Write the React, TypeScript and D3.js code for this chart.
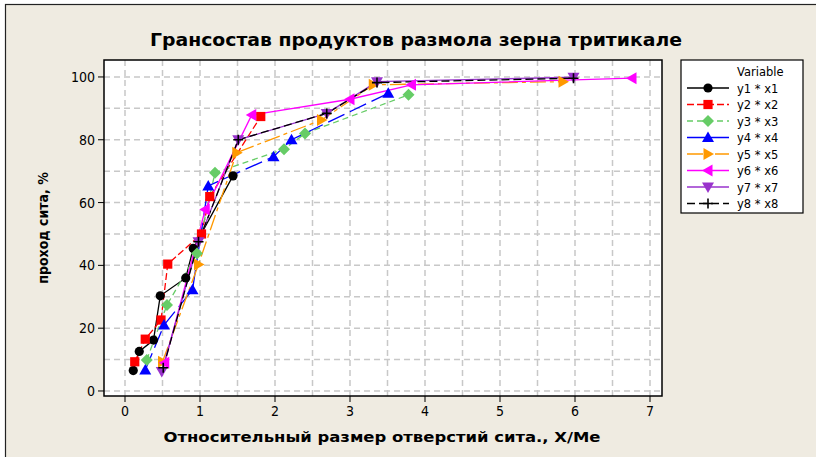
import React from "react";
import * as d3 from "d3";

const seriesNames = ["y1 * x1", "y2 * x2", "y3 * x3", "y4 * x4", "y5 * x5", "y6 * x6", "y7 * x7", "y8 * x8"];

const x1 = [0.11, 0.19, 0.38, 0.47, 0.81, 0.91, 1.44];
const y1 = [6.5, 12.6, 16.2, 30.3, 36.0, 45.4, 68.5];
const x2 = [0.13, 0.27, 0.48, 0.57, 1.02, 1.13, 1.81];
const y2 = [9.3, 16.5, 22.6, 40.4, 50.0, 61.9, 87.4];
const x3 = [0.29, 0.56, 0.96, 1.2, 2.12, 2.4, 3.78];
const y3 = [9.9, 27.4, 43.8, 69.5, 77.0, 82.0, 94.3];
const x4 = [0.27, 0.52, 0.9, 1.11, 1.98, 2.22, 3.51];
const y4 = [6.7, 21.0, 32.2, 65.3, 74.6, 80.0, 94.8];
const x5 = [0.5, 0.98, 1.49, 2.62, 3.31, 5.84];
const y5 = [9.3, 40.3, 75.9, 86.3, 97.5, 98.5];
const x6 = [0.53, 1.07, 1.69, 3.0, 3.82, 6.76];
const y6 = [9.0, 57.8, 87.9, 92.9, 97.5, 99.6];
const x7 = [0.49, 0.98, 1.51, 2.69, 3.36, 5.98];
const y7 = [6.2, 47.5, 80.0, 88.4, 98.5, 99.9];
const x8 = [0.51, 0.98, 1.51, 2.69, 3.36, 5.98];
const y8 = [7.4, 47.5, 80.0, 88.4, 98.2, 99.6];

const xTicks = [0, 1, 2, 3, 4, 5, 6, 7];
const yTicks = [0, 20, 40, 60, 80, 100];
const xGrid = d3.range(0, 7.01, 0.5);
const yGrid = d3.range(0, 100.1, 10);

const colors = ["#000000", "#ff0000", "#66cc66", "#0000ff", "#ff9900", "#ff00ff", "#9933cc", "#000000"];
const dashes = ["", "7,3", "6,4", "18,6", "16,4,4,4", "", "", "8,4"];
const symbols = ["circle", "square", "diamond", "up", "right", "left", "down", "cross"];

const xs = [x1, x2, x3, x4, x5, x6, x7, x8];
const ys = [y1, y2, y3, y4, y5, y6, y7, y8];

const W = 816, H = 457;
const PL = 104, PR = 662, PT = 60, PB = 396;

function Marker({ kind, cx, cy, color }: { kind: string; cx: number; cy: number; color: string }) {
  const s = 5;
  switch (kind) {
    case "circle":
      return <circle cx={cx} cy={cy} r={4.6} fill={color} />;
    case "square":
      return <rect x={cx - 4.6} y={cy - 4.6} width={9.2} height={9.2} fill={color} />;
    case "diamond":
      return <path d={`M${cx},${cy - 6}L${cx + 6},${cy}L${cx},${cy + 6}L${cx - 6},${cy}Z`} fill={color} />;
    case "up":
      return <path d={`M${cx},${cy - 6}L${cx + 6},${cy + 4.5}L${cx - 6},${cy + 4.5}Z`} fill={color} />;
    case "down":
      return <path d={`M${cx},${cy + 6}L${cx + 6},${cy - 4.5}L${cx - 6},${cy - 4.5}Z`} fill={color} />;
    case "right":
      return <path d={`M${cx + 6},${cy}L${cx - 4.5},${cy - 6}L${cx - 4.5},${cy + 6}Z`} fill={color} />;
    case "left":
      return <path d={`M${cx - 6},${cy}L${cx + 4.5},${cy - 6}L${cx + 4.5},${cy + 6}Z`} fill={color} />;
    case "cross":
      return <path d={`M${cx - s},${cy}L${cx + s},${cy}M${cx},${cy - s}L${cx},${cy + s}`} stroke={color} strokeWidth={1.6} />;
  }
  return null;
}

export default function App() {
  const x = d3.scaleLinear().domain([-0.28, 7.16]).range([PL, PR]);
  const y = d3.scaleLinear().domain([-1.6, 105.4]).range([PB, PT]);
  const line = d3.line<[number, number]>().x(d => x(d[0])).y(d => y(d[1]));
  const axisFont = "'DejaVu Sans Condensed', 'DejaVu Sans', sans-serif";

  return (
    <svg width={W} height={H} style={{ position: "absolute", left: 0, top: 0, background: "#fff" }}>
      <rect x={5.5} y={4.5} width={W + 10} height={H + 10} fill="#efebe1" stroke="#222" strokeWidth={1.2} />
      <text x={416} y={46} textAnchor="middle" fontFamily={axisFont} fontWeight="bold" fontSize={17}
        textLength={532} lengthAdjust="spacingAndGlyphs" fill="#000">
        Грансостав продуктов размола зерна тритикале
      </text>
      <rect x={PL} y={PT} width={PR - PL} height={PB - PT} fill="#fff" />
      <g stroke="#c8c8c8" strokeWidth={1.5} strokeDasharray="6,4">
        {xGrid.map(v => <line key={"gx" + v} x1={x(v)} x2={x(v)} y1={PT} y2={PB} />)}
        {yGrid.map(v => <line key={"gy" + v} x1={PL} x2={PR} y1={y(v)} y2={y(v)} />)}
      </g>
      {xs.map((xx, i) => (
        <path key={"l" + i} d={line(xx.map((v, j) => [v, ys[i][j]] as [number, number])) || ""}
          fill="none" stroke={colors[i]} strokeWidth={1.3} strokeDasharray={dashes[i] || undefined} />
      ))}
      {xs.map((xx, i) => (
        <g key={"m" + i}>
          {xx.map((v, j) => <Marker key={j} kind={symbols[i]} cx={x(v)} cy={y(ys[i][j])} color={colors[i]} />)}
        </g>
      ))}
      <rect x={PL} y={PT} width={PR - PL} height={PB - PT} fill="none" stroke="#000" strokeWidth={1.5} />
      <g stroke="#000" strokeWidth={1}>
        {xTicks.map(v => <line key={"tx" + v} x1={x(v)} x2={x(v)} y1={PB} y2={PB + 6} />)}
        {yTicks.map(v => <line key={"ty" + v} x1={PL - 6} x2={PL} y1={y(v)} y2={y(v)} />)}
      </g>
      <g fontFamily={axisFont} fontSize={14} fill="#000">
        {xTicks.map(v => <text key={"lx" + v} x={x(v)} y={PB + 20} textAnchor="middle">{v}</text>)}
        {yTicks.map(v => <text key={"ly" + v} x={PL - 9} y={y(v) + 5} textAnchor="end">{v}</text>)}
      </g>
      <text x={382} y={442} textAnchor="middle" fontFamily={axisFont} fontWeight="bold" fontSize={14}
        textLength={437} lengthAdjust="spacingAndGlyphs">Относительный размер отверстий сита., X/Me</text>
      <text transform={`translate(48,${(PT + PB) / 2}) rotate(-90)`} textAnchor="middle" fontFamily={axisFont}
        fontWeight="bold" fontSize={14}>проход сита, %</text>
      <rect x={681} y={60} width={122} height={153} fill="#fff" stroke="#000" strokeWidth={1.2} />
      <text x={737} y={76} fontFamily="'DejaVu Sans', sans-serif" fontSize={11.5}>Variable</text>
      {seriesNames.map((name, i) => {
        const ly = 88 + i * 16.5;
        return (
          <g key={"lg" + i}>
            <line x1={687} x2={729} y1={ly} y2={ly} stroke={colors[i]} strokeWidth={1.3}
              strokeDasharray={dashes[i] || undefined} />
            <Marker kind={symbols[i]} cx={708} cy={ly} color={colors[i]} />
            <text x={737} y={ly + 4.5} fontFamily="'DejaVu Sans', sans-serif" fontSize={11.5}>{name}</text>
          </g>
        );
      })}
    </svg>
  );
}
